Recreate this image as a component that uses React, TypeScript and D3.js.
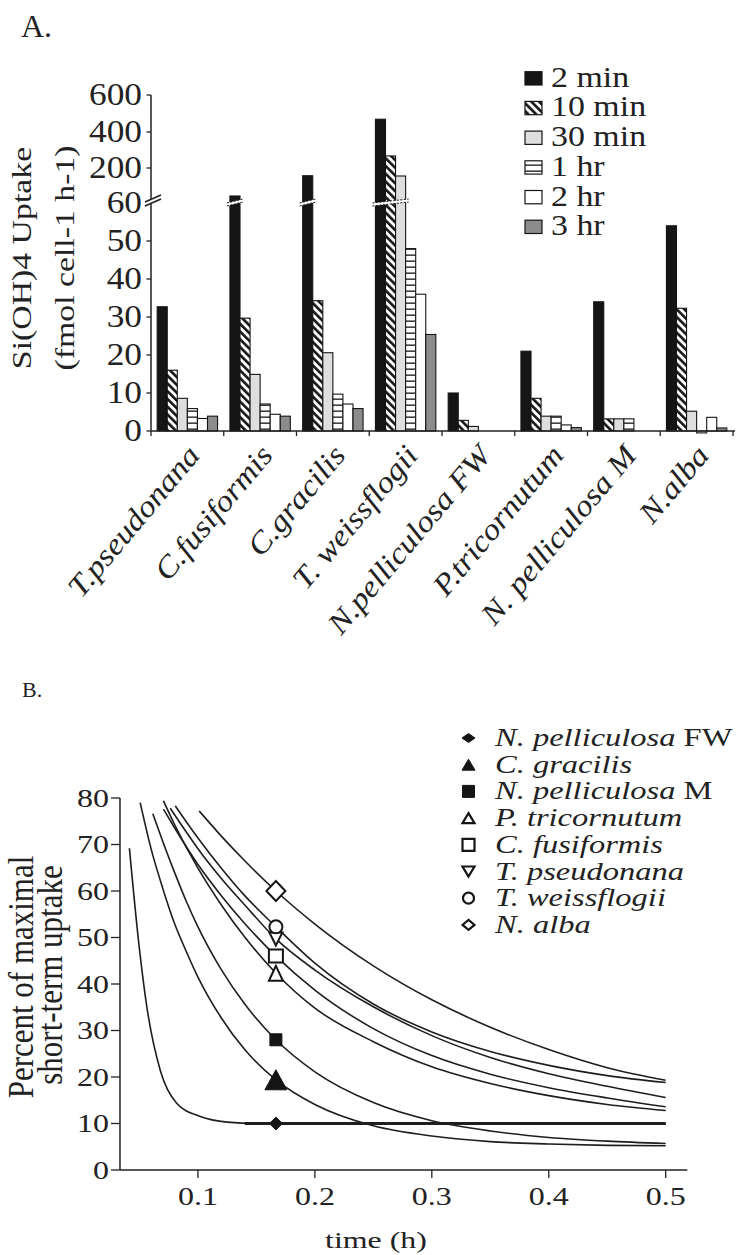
import React from "react";
import * as d3 from "d3";

const SERIF = "'Liberation Serif', 'Times New Roman', Times, serif";

// ---------- Panel A: Si(OH)4 uptake per species and incubation time ----------
const species = [
  "T.pseudonana",
  "C.fusiformis",
  "C.gracilis",
  "T. weissflogii",
  "N.pelliculosa FW",
  "P.tricornutum",
  "N. pelliculosa M",
  "N.alba",
];
const intervals = ["2 min", "10 min", "30 min", "1 hr", "2 hr", "3 hr"];
const uptake2min = [32.7, 88, 169, 469, 10, 21, 34, 54];
const uptake10min = [16, 29.7, 34.3, 267, 2.8, 8.6, 3.2, 32.3];
const uptake30min = [8.6, 14.9, 20.6, 168, 1.2, 3.9, 3.2, 5.2];
const uptake1hr = [5.9, 7.1, 9.7, 48, 0, 3.9, 3.2, -0.5];
const uptake2hr = [3.3, 4.4, 7.1, 36, 0, 1.6, 0, 3.6];
const uptake3hr = [3.9, 3.9, 5.9, 25.4, 0, 0.9, 0, 0.8];
const uptakeSeries = [uptake2min, uptake10min, uptake30min, uptake1hr, uptake2hr, uptake3hr];
const yTicksA = [0, 10, 20, 30, 40, 50, 60, 200, 400, 600];
const yBreakDomain = [0, 60, 200, 400, 600];
const AXIS_BREAK = 60;

// ---------- Panel B: decline of uptake over time ----------
const timeTicks = [0.1, 0.2, 0.3, 0.4, 0.5];
const pctTicks = [0, 10, 20, 30, 40, 50, 60, 70, 80];
const legendGenus = [
  "N. pelliculosa",
  "C. gracilis",
  "N. pelliculosa",
  "P. tricornutum",
  "C. fusiformis",
  "T. pseudonana",
  "T. weissflogii",
  "N. alba",
];
const legendSuffix = [" FW", "", " M", "", "", "", "", ""];
const markerTime = 1 / 6;
const markerPct = [10, 19.4, 28, 42.3, 46, 49.7, 52.3, 60];

const curveFW: [number, number][] = [
  [0.0414, 69.2], [0.0491, 49.5], [0.0563, 35.1], [0.0677, 21.5], [0.082, 14.3],
  [0.102, 11.5], [0.125, 10.3], [0.15, 10], [0.5, 10],
];
const plateauFW: [number, number][] = [[0.14, 10], [0.5, 10]];
const curveCgracilis: [number, number][] = [
  [0.0506, 79], [0.06, 69], [0.07, 60.5], [0.08, 53], [0.09, 47], [0.1, 41.5],
  [0.12, 32.7], [0.14, 25.9], [0.1667, 19.4], [0.2, 14.1], [0.25, 9.5], [0.3, 7.3],
  [0.35, 6.1], [0.4, 5.6], [0.45, 5.3], [0.5, 5.2],
];
const curveNpellM: [number, number][] = [
  [0.0614, 76.6], [0.07, 70.6], [0.08, 64], [0.09, 57.8], [0.1, 52.3], [0.12, 43.1],
  [0.14, 35.7], [0.1667, 28], [0.2, 21.1], [0.25, 14.5], [0.3, 10.6], [0.35, 8.4],
  [0.4, 7.0], [0.45, 6.2], [0.5, 5.7],
];
const curvePtri: [number, number][] = [
  [0.0705, 79.4], [0.08, 74.3], [0.1, 64.9], [0.12, 57], [0.14, 50.1], [0.1667, 42.3],
  [0.2, 34.8], [0.25, 27.6], [0.3, 22.2], [0.35, 18.6], [0.4, 16], [0.45, 14.1], [0.5, 12.8],
];
const curveCfus: [number, number][] = [
  [0.0705, 77.6], [0.08, 73.6], [0.1, 65.7], [0.12, 59], [0.14, 53], [0.1667, 46],
  [0.2, 38.7], [0.25, 30.4], [0.3, 24.6], [0.35, 20.6], [0.4, 17.7], [0.45, 15.5], [0.5, 13.6],
];
const curveTpseud: [number, number][] = [
  [0.0763, 77.8], [0.09, 72.7], [0.1, 69.1], [0.12, 62.7], [0.14, 57], [0.1667, 49.7],
  [0.2, 43], [0.25, 35.1], [0.3, 28.9], [0.35, 24.2], [0.4, 20.7], [0.45, 18], [0.5, 15.6],
];
const curveTweiss: [number, number][] = [
  [0.0806, 78.3], [0.09, 74.9], [0.1, 71.4], [0.12, 64.9], [0.14, 59], [0.1667, 52.3],
  [0.2, 44.5], [0.25, 35.7], [0.3, 29.7], [0.35, 25.5], [0.4, 22.5], [0.45, 20.3], [0.5, 18.8],
];
const curveNalba: [number, number][] = [
  [0.1011, 77.2], [0.12, 71.8], [0.14, 66.5], [0.1667, 60], [0.2, 52.9], [0.25, 43.9],
  [0.3, 36.6], [0.35, 30.7], [0.4, 25.9], [0.45, 22], [0.5, 19.3],
];
const speciesCurves = [
  curveFW, curveCgracilis, curveNpellM, curvePtri, curveCfus, curveTpseud, curveTweiss, curveNalba,
];

// ---------- styling ----------
const intervalFill = ["#151515", "url(#hatchDiag)", "#dedede", "url(#hatchHoriz)", "#ffffff", "#8c8c8c"];
const markerKind = ["diamond", "triUp", "square", "triUp", "square", "triDown", "circle", "diamond"];
const markerFilled = [true, true, true, false, false, false, false, false];
const markerSizePlot: [number, number][] = [
  [13, 13], [22, 20], [12, 12], [14, 15], [14, 13], [13, 13], [13, 13], [19, 20],
];
const markerSizeLegend: [number, number][] = [
  [13, 9], [13, 11], [12, 12], [12, 10], [12, 12], [12, 10], [11, 11], [12, 10],
];

function markerPath(kind: string, w: number, h: number): string {
  const a = w / 2;
  const b = h / 2;
  switch (kind) {
    case "diamond":
      return `M0,${-b}L${a},0L0,${b}L${-a},0Z`;
    case "triUp":
      return `M0,${-b}L${a},${b}L${-a},${b}Z`;
    case "triDown":
      return `M0,${b}L${a},${-b}L${-a},${-b}Z`;
    case "square":
      return `M${-a},${-b}H${a}V${b}H${-a}Z`;
    default:
      return `M${-a},0A${a},${b} 0 1,0 ${a},0A${a},${b} 0 1,0 ${-a},0Z`;
  }
}

type TxtProps = {
  x: number;
  y: number;
  size: number;
  sx?: number;
  outer?: number;
  rot?: number;
  anchor?: "start" | "middle" | "end";
  italic?: boolean;
  dy?: string;
  children: React.ReactNode;
};

function Txt({ x, y, size, sx = 1, outer = 1, rot = 0, anchor = "start", italic = false, dy, children }: TxtProps) {
  return (
    <text
      transform={`translate(${x},${y}) scale(${outer},1) rotate(${rot}) scale(${sx},1)`}
      fontFamily={SERIF}
      fontSize={size}
      fontStyle={italic ? "italic" : "normal"}
      textAnchor={anchor}
      dy={dy}
      fill="#222"
    >
      {children}
    </text>
  );
}

export default function App() {
  // ----- Panel A scales -----
  const xA = d3.scaleBand<string>().domain(species).range([151, 733]).paddingInner(0.17).paddingOuter(0.085);
  const xInner = d3.scaleBand<string>().domain(intervals).range([0, xA.bandwidth()]);
  const yA = d3.scaleLinear().domain(yBreakDomain).range([431, 203, 168, 132, 95]);
  const baseA = yA(0);
  const step = xA.step();
  const catBounds = d3.range(species.length + 1).map((i) => 151 + i * step);

  // ----- Panel B scales -----
  const xB = d3.scaleLinear().domain([0, 0.5]).range([81, 665.7]);
  const yB = d3.scaleLinear().domain([0, 80]).range([1170, 798]);
  const line = d3
    .line<[number, number]>()
    .x((d) => xB(d[0]))
    .y((d) => yB(d[1]))
    .curve(d3.curveMonotoneX);

  // runs of bars that cross the axis break, per species
  const breakRuns: { x0: number; x1: number }[] = [];
  species.forEach((sp, i) => {
    let run: { x0: number; x1: number } | null = null;
    intervals.forEach((iv, j) => {
      const v = uptakeSeries[j][i];
      const bx = (xA(sp) as number) + (xInner(iv) as number);
      if (v > AXIS_BREAK) {
        if (run) run.x1 = bx + xInner.bandwidth();
        else run = { x0: bx, x1: bx + xInner.bandwidth() };
      } else if (run) {
        breakRuns.push(run);
        run = null;
      }
    });
    if (run) breakRuns.push(run);
  });
  const yBreak = yA(AXIS_BREAK);

  return (
    <svg
      width={739}
      height={1255}
      viewBox="0 0 739 1255"
      style={{ position: "absolute", left: 0, top: 0, background: "#fff" }}
    >
      <defs>
        <pattern id="hatchDiag" patternUnits="userSpaceOnUse" width="5.5" height="5.5" patternTransform="rotate(-45)">
          <rect width="5.5" height="5.5" fill="#fff" />
          <rect width="2.6" height="5.5" fill="#151515" />
        </pattern>
        <pattern id="hatchHoriz" patternUnits="userSpaceOnUse" width="6" height="6">
          <rect width="6" height="6" fill="#fff" />
          <rect y="2.5" width="6" height="1.3" fill="#151515" />
        </pattern>
      </defs>
      <rect width={739} height={1255} fill="#fff" />

      {/* ================= Panel A ================= */}
      <Txt x={21} y={37} size={32}>A.</Txt>

      {/* bars */}
      {species.map((sp, i) => (
        <g key={sp}>
          {intervals.map((iv, j) => {
            const v = uptakeSeries[j][i];
            if (v === 0) return null;
            const y0 = yA(v);
            return (
              <rect
                key={iv}
                x={(xA(sp) as number) + (xInner(iv) as number)}
                y={Math.min(y0, baseA)}
                width={xInner.bandwidth()}
                height={Math.abs(baseA - y0)}
                fill={intervalFill[j]}
                stroke="#151515"
                strokeWidth={1.1}
              />
            );
          })}
        </g>
      ))}

      {/* break marks on bars crossing the scale change */}
      {breakRuns.map((r, k) => (
        <g key={k}>
          <polygon
            points={`${r.x0 - 3},${yBreak + 3} ${r.x1 + 3},${yBreak - 1} ${r.x1 + 3},${yBreak - 4} ${r.x0 - 3},${yBreak}`}
            fill="#fff"
          />
          <line x1={r.x0 - 3} y1={yBreak + 3} x2={r.x1 + 3} y2={yBreak - 1} stroke="#151515" strokeWidth={1} strokeDasharray="2 1.5" />
          <line x1={r.x0 - 3} y1={yBreak} x2={r.x1 + 3} y2={yBreak - 4} stroke="#151515" strokeWidth={1} strokeDasharray="2 1.5" />
        </g>
      ))}

      {/* axes */}
      <line x1={151} y1={yA(600)} x2={151} y2={baseA} stroke="#222" strokeWidth={1.5} />
      <line x1={151} y1={baseA} x2={catBounds[catBounds.length - 1] + 2} y2={baseA} stroke="#222" strokeWidth={1.5} />
      {yTicksA.map((t) => (
        <g key={t}>
          <line x1={146.5} x2={151} y1={yA(t)} y2={yA(t)} stroke="#222" strokeWidth={1.3} />
          <Txt x={142} y={yA(t)} size={31} sx={1.14} anchor="end" dy="0.33em">
            {t}
          </Txt>
        </g>
      ))}
      {catBounds.map((b, i) => (
        <line key={i} x1={b} x2={b} y1={baseA} y2={baseA + 5} stroke="#222" strokeWidth={1.3} />
      ))}
      {/* axis break symbol */}
      <polygon points={`145,${yBreak + 3} 161,${yBreak - 4} 161,${yBreak - 8} 145,${yBreak - 1}`} fill="#fff" />
      <line x1={145} y1={yBreak + 3} x2={161} y2={yBreak - 4} stroke="#222" strokeWidth={1.8} />
      <line x1={145} y1={yBreak - 1} x2={161} y2={yBreak - 8} stroke="#222" strokeWidth={1.8} />

      {/* category labels */}
      {species.map((sp) => (
        <Txt
          key={sp}
          x={(xA(sp) as number) + xA.bandwidth() / 2 + 14}
          y={456}
          size={30}
          sx={1.12}
          rot={-50}
          anchor="end"
          italic
        >
          {sp}
        </Txt>
      ))}

      {/* y title */}
      <Txt x={31} y={258} size={31} outer={0.85} sx={1.09} rot={-90} anchor="middle">
        Si(OH)4 Uptake
      </Txt>
      <Txt x={74} y={258} size={31} outer={0.85} sx={1.09} rot={-90} anchor="middle">
        (fmol cell-1 h-1)
      </Txt>

      {/* legend */}
      {intervals.map((iv, j) => {
        const base = 86.7 + j * 29.7;
        return (
          <g key={iv}>
            <rect x={525} y={base - 15} width={17} height={13.3} fill={intervalFill[j]} stroke="#151515" strokeWidth={1.2} />
            <Txt x={551} y={base} size={30} sx={1.13}>
              {iv}
            </Txt>
          </g>
        );
      })}

      {/* ================= Panel B ================= */}
      <Txt x={22} y={697} size={22}>B.</Txt>

      {/* curves */}
      {speciesCurves.map((c, i) => (
        <path key={i} d={line(c) as string} fill="none" stroke="#1e1e1e" strokeWidth={1.6} />
      ))}
      <path d={line(plateauFW) as string} fill="none" stroke="#1e1e1e" strokeWidth={3} />

      {/* markers at 10 min */}
      {markerPct.map((v, i) => (
        <path
          key={i}
          transform={`translate(${xB(markerTime)},${yB(v)})`}
          d={markerPath(markerKind[i], markerSizePlot[i][0], markerSizePlot[i][1])}
          fill={markerFilled[i] ? "#151515" : "#fff"}
          stroke="#151515"
          strokeWidth={markerFilled[i] ? 1 : 2}
        />
      ))}

      {/* axes */}
      <line x1={xB(1 / 30)} y1={yB(80)} x2={xB(1 / 30)} y2={yB(0)} stroke="#222" strokeWidth={1.5} />
      <line x1={xB(1 / 30)} y1={yB(0)} x2={xB(0.5185)} y2={yB(0)} stroke="#222" strokeWidth={1.5} />
      {pctTicks.map((t) => (
        <g key={t}>
          <line x1={xB(1 / 30) - 9} x2={xB(1 / 30)} y1={yB(t)} y2={yB(t)} stroke="#222" strokeWidth={1.3} />
          <Txt x={109} y={yB(t)} size={25} sx={1.28} anchor="end" dy="0.34em">
            {t}
          </Txt>
        </g>
      ))}
      {timeTicks.map((t) => (
        <g key={t}>
          <line x1={xB(t)} x2={xB(t)} y1={yB(0)} y2={yB(0) + 8} stroke="#222" strokeWidth={1.3} />
          <Txt x={xB(t)} y={1205} size={25} sx={1.28} anchor="middle">
            {String(t)}
          </Txt>
        </g>
      ))}
      <Txt x={376} y={1248} size={24} sx={1.33} anchor="middle">
        time (h)
      </Txt>
      <Txt x={33} y={977} size={31} outer={1.18} rot={-90} anchor="middle">
        Percent of maximal
      </Txt>
      <Txt x={62} y={975} size={31} outer={1.18} rot={-90} anchor="middle">
        short-term uptake
      </Txt>

      {/* legend */}
      {legendGenus.map((g, i) => {
        const base = 746 + i * 26.7;
        return (
          <g key={i}>
            <path
              transform={`translate(468.5,${base - 8})`}
              d={markerPath(markerKind[i], markerSizeLegend[i][0], markerSizeLegend[i][1])}
              fill={markerFilled[i] ? "#151515" : "#fff"}
              stroke="#151515"
              strokeWidth={markerFilled[i] ? 1 : 2.2}
            />
            <text
              transform={`translate(495,${base}) scale(1.3,1)`}
              fontFamily={SERIF}
              fontSize={25}
              fill="#222"
            >
              <tspan fontStyle="italic">{g}</tspan>
              {legendSuffix[i] ? <tspan>{legendSuffix[i]}</tspan> : null}
            </text>
          </g>
        );
      })}
    </svg>
  );
}
